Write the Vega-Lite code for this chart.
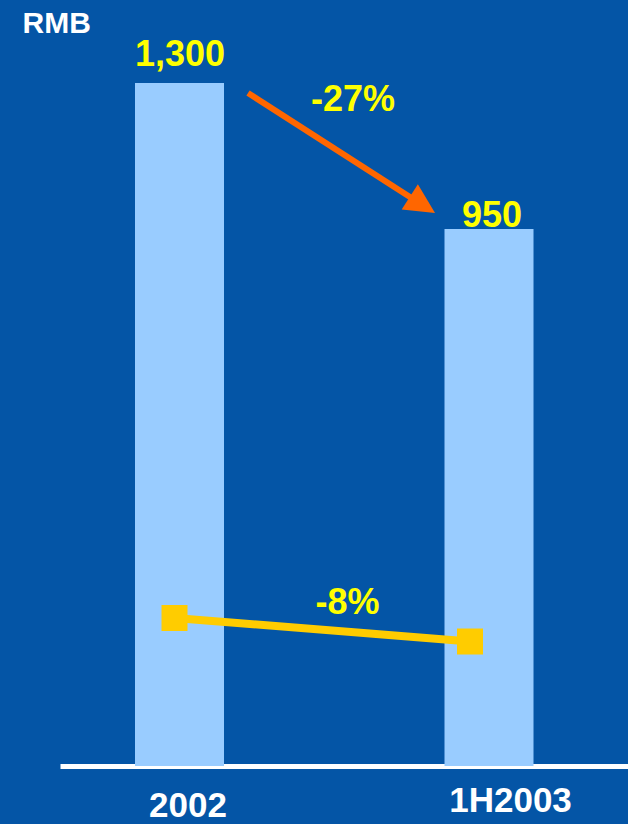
{
  "$schema": "https://vega.github.io/schema/vega-lite/v6.json",
  "width": 628,
  "height": 766,
  "autosize": {"type": "none"},
  "padding": {"left": 0, "top": 0, "right": 0, "bottom": 58},
  "background": "#0455A6",
  "config": {"view": {"stroke": null}, "font": "Liberation Sans"},
  "datasets": {
    "bars": [
      {"period": "2002", "rmb": 1300, "label": "1,300"},
      {"period": "1H2003", "rmb": 950, "label": "950"}
    ],
    "change": [
      {"from": "2002", "to": "1H2003", "fromRmb": 1300, "toRmb": 950, "label": "-27%"}
    ],
    "trend": [
      {"period": "2002", "index": 100},
      {"period": "1H2003", "index": 92}
    ],
    "trendChange": [
      {"period": "2002", "index": 100, "label": "-8%"}
    ]
  },
  "layer": [
    {
      "layer": [
        {
          "data": {"name": "bars"},
          "mark": {"type": "bar", "color": "#99CCFF"},
          "encoding": {
            "x": {
              "field": "period", "type": "nominal",
              "scale": {"type": "band", "domain": ["2002", "1H2003"], "range": [60, 628], "paddingInner": 0.7124, "paddingOuter": 0.2738, "align": 0.4425},
              "axis": {
                "title": null, "domain": true, "domainColor": "#FFFFFF", "domainWidth": 5, "ticks": false, "grid": false,
                "labelColor": "#FFFFFF", "labelFont": "Liberation Sans", "labelFontWeight": "bold", "labelFontSize": 35,
                "labelAngle": 0, "labelBaseline": "alphabetic", "labelAlign": "center",
                "labelOffset": {"condition": {"test": "datum.value === '2002'", "value": 8.5}, "value": 21.5},
                "labelPadding": {"condition": {"test": "datum.value === '2002'", "value": 50}, "value": 45},
                "labelFlush": false, "labelOverlap": false, "labelBound": false
              }
            },
            "y": {
              "field": "rmb", "type": "quantitative",
              "scale": {"domain": [-337.3, 1499], "nice": false, "zero": false},
              "axis": {
                "title": "RMB", "titleColor": "#FFFFFF", "titleFont": "Liberation Sans", "titleFontWeight": "bold", "titleFontSize": 30,
                "titleAngle": 0, "titleAlign": "left", "titleBaseline": "alphabetic", "titleX": 22, "titleY": 32,
                "labels": false, "ticks": false, "domain": false, "grid": false
              }
            },
            "y2": {"datum": -337.3}
          }
        },
        {
          "data": {"name": "bars"},
          "transform": [{"filter": "datum.period === '2002'"}],
          "mark": {"type": "text", "color": "#FFFF00", "font": "Liberation Sans", "fontWeight": "bold", "fontSize": 36, "baseline": "alphabetic", "align": "center", "dx": 0.5, "dy": -17.3},
          "encoding": {
            "x": {"field": "period", "type": "nominal", "bandPosition": 0.5},
            "y": {"field": "rmb", "type": "quantitative"},
            "text": {"field": "label"}
          }
        },
        {
          "data": {"name": "bars"},
          "transform": [{"filter": "datum.period === '1H2003'"}],
          "mark": {"type": "text", "color": "#FFFF00", "font": "Liberation Sans", "fontWeight": "bold", "fontSize": 36, "baseline": "alphabetic", "align": "center", "dx": 3, "dy": -2},
          "encoding": {
            "x": {"field": "period", "type": "nominal", "bandPosition": 0.5},
            "y": {"field": "rmb", "type": "quantitative"},
            "text": {"field": "label"}
          }
        },
        {
          "data": {"name": "change"},
          "mark": {"type": "rule", "color": "#FF6600", "strokeWidth": 6, "xOffset": 68.5, "yOffset": 10, "x2Offset": -66.6, "y2Offset": -24.1},
          "encoding": {
            "x": {"field": "from", "type": "nominal", "bandPosition": 0.5},
            "x2": {"field": "to", "bandPosition": 0.5},
            "y": {"field": "fromRmb", "type": "quantitative"},
            "y2": {"field": "toRmb"}
          }
        },
        {
          "data": {"name": "change"},
          "mark": {"type": "point", "shape": "M-1,-1L1,0L-1,1Z", "filled": true, "size": 900, "angle": 32.7, "color": "#FF6600", "opacity": 1, "xOffset": -66.6, "yOffset": -24.1},
          "encoding": {
            "x": {"field": "to", "type": "nominal", "bandPosition": 0.5},
            "y": {"field": "toRmb", "type": "quantitative"}
          }
        },
        {
          "data": {"name": "change"},
          "mark": {"type": "text", "color": "#FFFF00", "font": "Liberation Sans", "fontWeight": "bold", "fontSize": 36, "baseline": "alphabetic", "align": "center", "dx": 173.5, "dy": 27.5},
          "encoding": {
            "x": {"field": "from", "type": "nominal", "bandPosition": 0.5},
            "y": {"field": "fromRmb", "type": "quantitative"},
            "text": {"field": "label"}
          }
        }
      ]
    },
    {
      "layer": [
        {
          "data": {"name": "trend"},
          "mark": {"type": "line", "color": "#FFCC00", "strokeWidth": 8},
          "encoding": {
            "x": {"field": "period", "type": "nominal", "scale": {"type": "point", "domain": ["2002", "1H2003"], "range": [174.5, 470], "padding": 0}, "axis": null},
            "y": {"field": "index", "type": "quantitative", "scale": {"domain": [49.62, 310.38], "nice": false, "zero": false}, "axis": null}
          }
        },
        {
          "data": {"name": "trend"},
          "mark": {"type": "point", "shape": "square", "filled": true, "size": 676, "color": "#FFCC00", "opacity": 1},
          "encoding": {
            "x": {"field": "period", "type": "nominal"},
            "y": {"field": "index", "type": "quantitative"}
          }
        },
        {
          "data": {"name": "trendChange"},
          "mark": {"type": "text", "color": "#FFFF00", "font": "Liberation Sans", "fontWeight": "bold", "fontSize": 36, "baseline": "alphabetic", "align": "center", "dx": 173, "dy": -4},
          "encoding": {
            "x": {"field": "period", "type": "nominal"},
            "y": {"field": "index", "type": "quantitative"},
            "text": {"field": "label"}
          }
        }
      ]
    }
  ],
  "resolve": {"scale": {"x": "independent", "y": "independent"}}
}
